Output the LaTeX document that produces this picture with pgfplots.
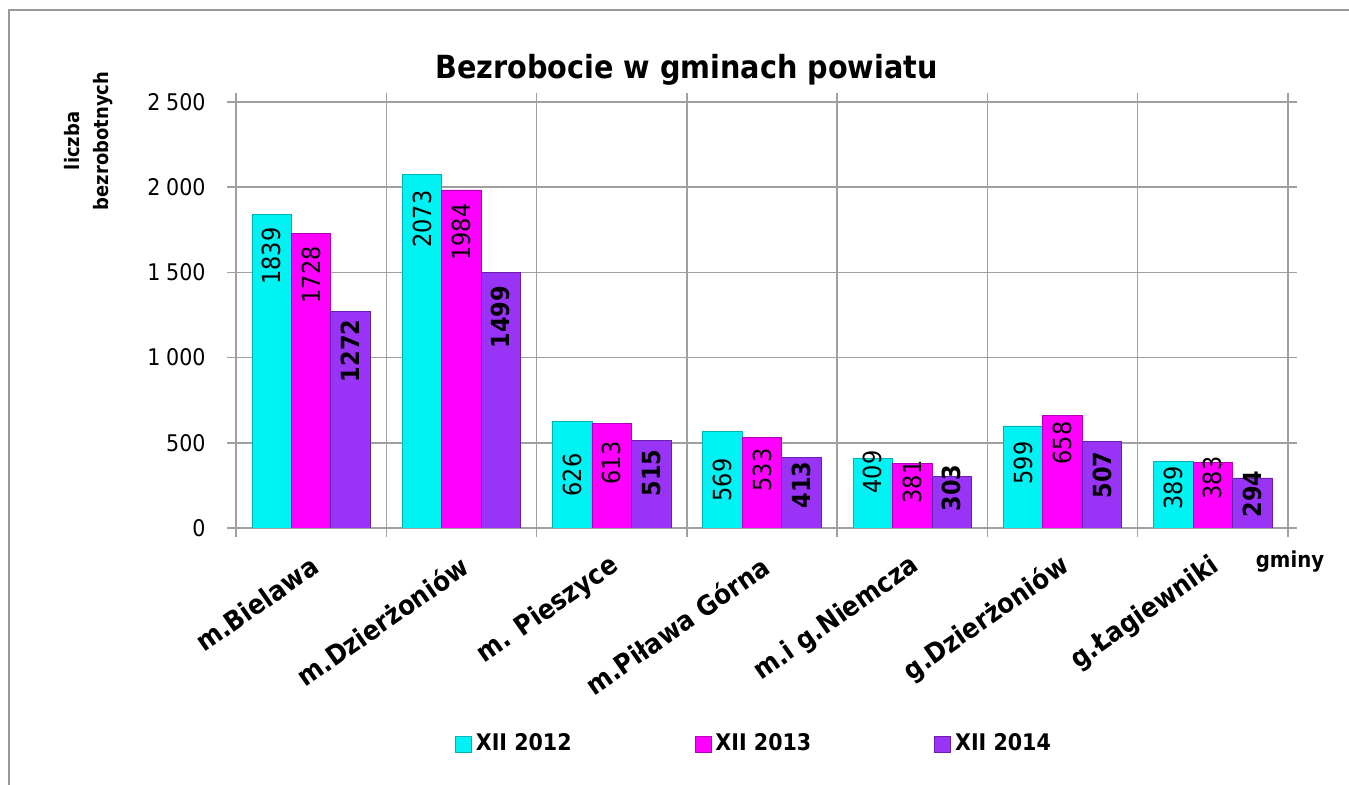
\documentclass[border=0pt]{standalone}
\usepackage{pgfplots}
\pgfplotsset{compat=1.18}
\usepackage{pgfplotstable}
\usepackage{fontspec}
\setmainfont{DejaVu Sans}[FakeStretch=0.9]
\definecolor{cA}{HTML}{00F2F2}
\definecolor{cAd}{HTML}{00B4B4}
\definecolor{cB}{HTML}{FF00FF}
\definecolor{cBd}{HTML}{B400B4}
\definecolor{cC}{HTML}{9933F5}
\definecolor{cCd}{HTML}{6A1FB0}
\definecolor{gridc}{HTML}{A0A0A0}
\pgfplotstableread{
x a b c la lb lc
0 1839 1728 1272 1596 1485 1039
1 2073 1984 1499 1813 1737 1238
2 626 613 515 311 381 323
3 569 533 413 282 340 252
4 409 381 303 329 270 235
5 599 658 507 381 499 311
6 389 383 294 235 293 200
}\data
\begin{document}
\begin{tikzpicture}
\useasboundingbox (0,0) rectangle (674.5bp,392.5bp);
\fill[white] (0,0) rectangle (674.5bp,392.5bp);
\draw[gray!80, line width=1bp] (4.5bp,0) -- (4.5bp,387.5bp) -- (674.5bp,387.5bp);
\begin{axis}[
  at={(118bp,128.5bp)}, anchor=south west,
  scale only axis, width=526bp, height=213bp,
  xmin=-0.5, xmax=6.5, ymin=0, ymax=2500,
  axis line style={gridc, line width=0.75bp},
  tick style={gridc, line width=0.75bp},
  grid style={gridc, line width=0.75bp},
  tick align=outside, major tick length=4.5bp,
  xtick={-0.5,0.5,...,6.5}, xticklabels={},
  xmajorgrids, ymajorgrids,
  ytick={0,500,...,2500},
  /pgf/number format/assume math mode=true,
  /pgf/number format/1000 sep={\kern0.25em},
  yticklabel style={font=\fontsize{11.5}{13}\selectfont, inner sep=0pt, anchor=east, xshift=-10.5bp},
  extra x ticks={0,1,2,3,4,5,6},
  extra x tick labels={m.Bielawa, m.Dzierżoniów, m. Pieszyce, m.Piława Górna, m.i g.Niemcza, g.Dzierżoniów, g.Łagiewniki},
  extra x tick style={grid=none, major tick length=0pt,
    tick label style={xshift=2bp, yshift=-17.5bp, rotate=35, anchor=east, inner sep=0pt, font=\fontsize{13.6}{15}\selectfont\bfseries}},
  legend style={at={(0.4924,-0.507)}, anchor=center, draw=none, fill=none,
    legend columns=3, font=\fontsize{11.5}{13}\selectfont\bfseries,
    /tikz/every odd column/.append style={column sep=1bp},
    /tikz/every even column/.append style={column sep=60.5bp},
    nodes={inner sep=1bp}},
  legend cell align=left,
  bar width=0.2628,
  every node near coord/.append style={rotate=90, anchor=center, inner sep=0pt, font=\fontsize{12.5}{14}\selectfont, text=black},
]
\addplot[ybar, bar shift=-0.2628, fill=cA, draw=cAd, line width=0.4bp,
  legend image code/.code={\draw[fill=cA,draw=cAd,line width=0.4bp] (0bp,-4bp) rectangle (8bp,4bp);}]
  table[x=x, y=a] {\data};
\addlegendentry{XII 2012}
\addplot[ybar, bar shift=0, fill=cB, draw=cBd, line width=0.4bp,
  legend image code/.code={\draw[fill=cB,draw=cBd,line width=0.4bp] (0bp,-4bp) rectangle (8bp,4bp);}]
  table[x=x, y=b] {\data};
\addlegendentry{XII 2013}
\addplot[ybar, bar shift=0.2628, fill=cC, draw=cCd, line width=0.4bp,
  legend image code/.code={\draw[fill=cC,draw=cCd,line width=0.4bp] (0bp,-4bp) rectangle (8bp,4bp);}]
  table[x=x, y=c] {\data};
\addlegendentry{XII 2014}
\addplot[draw=none, mark=none, forget plot, point meta=explicit symbolic,
  nodes near coords={\pgfplotspointmeta}]
  table[x expr=\thisrow{x}-0.2628, y=la, meta=a] {\data};
\addplot[draw=none, mark=none, forget plot, point meta=explicit symbolic,
  nodes near coords={\pgfplotspointmeta}]
  table[x=x, y=lb, meta=b] {\data};
\addplot[draw=none, mark=none, forget plot, point meta=explicit symbolic,
  nodes near coords={\pgfplotspointmeta},
  every node near coord/.append style={font=\fontsize{12.5}{14}\selectfont\bfseries}]
  table[x expr=\thisrow{x}+0.2628, y=lc, meta=c] {\data};
\end{axis}
\node[font=\fontsize{16}{18}\selectfont\bfseries] at (343.25bp,357.5bp) {Bezrobocie w gminach powiatu};
\node[font=\fontsize{10}{14.5}\selectfont\bfseries, rotate=90, align=center] at (44.5bp,322bp) {liczba\\bezrobotnych};
\node[font=\fontsize{11}{13}\selectfont\bfseries] at (645bp,111.5bp) {gminy};
\end{tikzpicture}
\end{document}
